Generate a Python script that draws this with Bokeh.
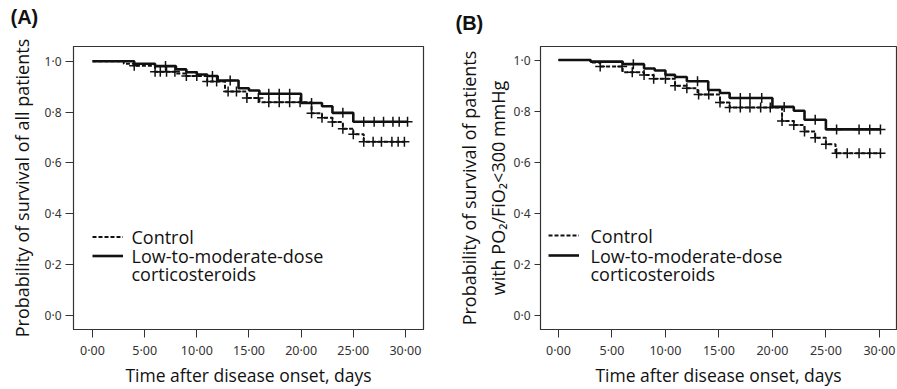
import numpy as np
from bokeh.plotting import figure
from bokeh.models import FixedTicker, Legend, LegendItem, Range1d, Label, Title
from bokeh.layouts import row
from bokeh.embed import file_html
from bokeh.resources import INLINE

# ---------------- data ----------------
x_ticks = [0, 5, 10, 15, 20, 25, 30]
x_tick_labels = ["0·00", "5·00", "10·00", "15·00", "20·00", "25·00", "30·00"]
y_ticks = [0.0, 0.2, 0.4, 0.6, 0.8, 1.0]
y_tick_labels = ["0·0", "0·2", "0·4", "0·6", "0·8", "1·0"]

legend_lines = ["Control", "Low-to-moderate-dose", "corticosteroids"]
x_title = "Time after disease onset, days"

# Panel A: all patients
a_ctrl_t = [0, 3, 4, 6, 8, 9, 11, 12.7, 14.8, 16, 21, 22, 23, 24, 25, 26]
a_ctrl_s = [1.0, 0.99, 0.982, 0.959, 0.952, 0.942, 0.920, 0.881, 0.855, 0.839,
            0.795, 0.778, 0.761, 0.735, 0.713, 0.683]
a_ctrl_cens = [4.0, 6.0, 6.5, 7.1, 7.9, 9.0, 10.0, 11.0, 11.9, 13.0, 13.8, 14.8,
               15.9, 16.9, 17.9, 18.9, 19.9, 21.0, 22.0, 23.0, 24.0, 25.0, 26.0,
               26.9, 27.7, 28.7, 29.3, 29.9]
a_trt_t = [0, 4, 6, 8, 9, 10, 11, 12, 14, 15, 16, 20, 22, 23, 25]
a_trt_s = [1.0, 0.99, 0.981, 0.968, 0.957, 0.948, 0.942, 0.924, 0.894, 0.885,
           0.872, 0.836, 0.823, 0.797, 0.762]
a_trt_cens = [7.0, 11.5, 13.2, 16.9, 17.9, 18.9, 21.0, 24.0, 26.0, 27.0, 27.9,
              28.8, 29.4, 30.2]

# Panel B: patients with PO2/FiO2 < 300 mmHg
b_ctrl_t = [0, 3, 3.9, 6, 8, 8.9, 10.9, 12, 13, 15.1, 16, 20.9, 22, 23, 24, 25, 25.9]
b_ctrl_s = [1.0, 0.99, 0.975, 0.952, 0.942, 0.927, 0.900, 0.890, 0.865, 0.834,
            0.815, 0.762, 0.746, 0.721, 0.696, 0.671, 0.636]
b_ctrl_cens = [3.9, 5.95, 6.9, 8.0, 8.9, 10.0, 10.9, 12.0, 13.1, 14.05, 15.1, 16.0,
               17.0, 17.9, 18.9, 19.8, 20.9, 22.0, 23.0, 24.0, 25.0, 26.0, 27.0,
               28.1, 29.1, 30.1]
b_trt_t = [0, 3, 6, 8, 9, 10, 10.9, 12, 14, 15.1, 16, 20, 22, 23, 25]
b_trt_s = [1.0, 0.994, 0.984, 0.967, 0.959, 0.942, 0.934, 0.917, 0.883, 0.871,
           0.852, 0.817, 0.802, 0.767, 0.729]
b_trt_cens = [7.0, 13.0, 17.0, 17.9, 19.0, 21.1, 24.0, 26.0, 28.1, 29.1, 30.1]

FONT = "Open Sans"
TICK_FONT = "Noto Sans"
INK = "#111111"


def surv_at(t, s, c):
    t = np.asarray(t)
    s = np.asarray(s)
    idx = np.searchsorted(t, np.asarray(c), side="right") - 1
    return s[idx]


def make_panel(title, ylabel, ctrl_t, ctrl_s, ctrl_c, trt_t, trt_s, trt_c,
               width, height, xr, yr, bl, br, bt, bb, leg_x, leg_text_x,
               leg_rows_y, title_off, ylab_standoff, tick_out, spacer):
    p = figure(width=width, height=height, output_backend="svg",
               toolbar_location=None, x_range=Range1d(*xr), y_range=Range1d(*yr),
               min_border_left=bl, min_border_right=br, min_border_top=bt,
               min_border_bottom=bb)
    p.grid.visible = False
    p.outline_line_color = "#333333"
    p.outline_line_width = 1.2
    p.background_fill_color = "white"

    p.title.text = title
    p.title.align = "left"
    p.title.offset = title_off
    p.title.standoff = 0
    p.title.text_font = "Liberation Sans"
    p.title.text_font_style = "bold"
    p.title.text_font_size = "20px"
    p.title.text_color = INK
    # blank spacer between the panel letter and the frame
    p.add_layout(Title(text=" ", text_font_size="1px", standoff=spacer), "above")

    for ax in (p.xaxis[0], p.yaxis[0]):
        ax.axis_line_color = "#333333"
        ax.major_tick_line_color = "#333333"
        ax.major_tick_out = tick_out
        ax.major_tick_in = 0
        ax.minor_tick_line_color = None
        ax.major_label_text_font = TICK_FONT
        ax.major_label_text_color = "#333333"
        ax.axis_label_text_font = FONT
        ax.axis_label_text_font_style = "normal"
        ax.axis_label_text_color = INK
    p.xaxis.major_tick_out = 8

    p.xaxis.ticker = FixedTicker(ticks=x_ticks)
    p.xaxis.major_label_overrides = dict(zip(x_ticks, x_tick_labels))
    p.xaxis.major_label_text_font_size = "12.5px"
    p.xaxis.axis_label = x_title
    p.xaxis.axis_label_text_font_size = "17.5px"
    p.xaxis.axis_label_standoff = 1
    p.xaxis.major_label_standoff = 4

    p.yaxis.ticker = FixedTicker(ticks=y_ticks)
    p.yaxis.major_label_overrides = dict(zip(y_ticks, y_tick_labels))
    p.yaxis.major_label_text_font_size = "12px"
    p.yaxis.axis_label = ylabel
    p.yaxis.axis_label_text_font_size = "18px"
    p.yaxis.axis_label_standoff = ylab_standoff
    p.yaxis.major_label_standoff = 4

    # step curves, extended to the last censoring time
    cx = list(ctrl_t) + [max(ctrl_c)]
    cy = list(ctrl_s) + [ctrl_s[-1]]
    tx = list(trt_t) + [max(trt_c)]
    ty = list(trt_s) + [trt_s[-1]]

    r_ctrl = p.step(cx, cy, mode="after", line_color=INK, line_width=2,
                    line_dash="4 2")
    r_trt = p.step(tx, ty, mode="after", line_color=INK, line_width=2.6)

    p.scatter(ctrl_c, surv_at(ctrl_t, ctrl_s, ctrl_c), marker="cross", size=10,
              line_color=INK, line_width=1.5)
    p.scatter(trt_c, surv_at(trt_t, trt_s, trt_c), marker="cross", size=10,
              line_color=INK, line_width=1.5)

    # legend: glyph keys from Bokeh's Legend, texts as labels for exact spacing
    row_h = leg_rows_y[0] - leg_rows_y[1]
    legend = Legend(items=[LegendItem(label="", renderers=[r_ctrl]),
                           LegendItem(label="", renderers=[r_trt])],
                    location=(leg_x, int(round(leg_rows_y[1] - row_h / 2))))
    legend.border_line_color = None
    legend.background_fill_alpha = 0
    legend.label_text_font_size = "8px"
    legend.glyph_width = 31
    legend.glyph_height = int(row_h)
    legend.label_height = int(row_h)
    legend.label_width = 1
    legend.label_standoff = 0
    legend.padding = 0
    legend.margin = 0
    legend.spacing = 0
    p.add_layout(legend)

    for txt, yy in zip(legend_lines, leg_rows_y):
        p.add_layout(Label(x=leg_text_x, y=yy, x_units="screen", y_units="screen",
                           text=txt, text_font=FONT, text_font_size="18px",
                           text_color=INK, text_baseline="middle",
                           text_align="left"))
    return p


# frame A: x 73..423, y 46..333 ; frame B: x 540..896, y 40..334
pA = make_panel("(A)", "Probability of survival of all patients",
                a_ctrl_t, a_ctrl_s, a_ctrl_cens, a_trt_t, a_trt_s, a_trt_cens,
                width=453, height=389, xr=(-1.82, 31.73), yr=(-0.055, 1.058),
                bl=73, br=30, bt=46, bb=56, leg_x=19, leg_text_x=58,
                leg_rows_y=[93, 74, 56], title_off=-63, ylab_standoff=8,
                tick_out=8, spacer=16)
pB = make_panel("(B)", "Probability of survival of patients\nwith PO₂/FiO₂<300 mmHg",
                b_ctrl_t, b_ctrl_s, b_ctrl_cens, b_trt_t, b_trt_s, b_trt_cens,
                width=444, height=389, xr=(-1.68, 31.6), yr=(-0.053, 1.053),
                bl=87, br=1, bt=40, bb=55, leg_x=8, leg_text_x=50,
                leg_rows_y=[94, 74, 56], title_off=-85, ylab_standoff=1,
                tick_out=6, spacer=10)

layout = row(pA, pB)
open("out.html", "w").write(file_html(layout, INLINE))
